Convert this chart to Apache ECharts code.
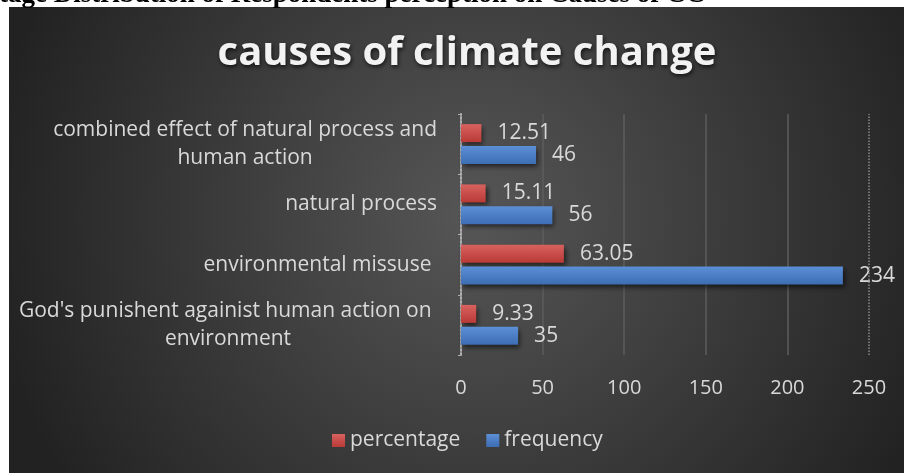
<!DOCTYPE html>
<html>
<head>
<meta charset="utf-8">
<script src="https://cdn.jsdelivr.net/npm/echarts@6/dist/echarts.min.js"></script>
<style>
html,body{margin:0;padding:0;background:#ffffff;}
#chart{width:904px;height:473px;}
</style>
</head>
<body>
<div id="chart"></div>
<script>
// ---- data ----
var categories = [
  "God's punishent againist human action on \nenvironment",
  "environmental missuse ",
  "natural process",
  "combined effect of natural process and\nhuman action"
];
var percentage = [9.33, 63.05, 15.11, 12.51];
var frequency = [35, 234, 56, 46];
var xTicks = [0, 50, 100, 150, 200, 250];
var seriesNames = ['percentage', 'frequency'];
var chartTitle = 'causes of climate change';
var headerText = "tage Distribution of Respondents perception on Causes of CC";

var chart = echarts.init(document.getElementById('chart'), null, {renderer: 'canvas'});
var FONT = '"Open Sans", "Noto Sans", sans-serif';
var LABEL = '#d9d9d9';

function grad(top, bottom) {
  return new echarts.graphic.LinearGradient(0, 0, 0, 1, [
    {offset: 0, color: top}, {offset: 1, color: bottom}
  ]);
}

var option = {
  backgroundColor: '#ffffff',
  animation: false,
  graphic: [
    {
      type: 'rect', z: -10, silent: true,
      shape: {x: 9, y: 7, width: 895, height: 466},
      style: {
        fill: new echarts.graphic.RadialGradient(0.52, 0.45, 1.05, [
          {offset: 0, color: '#565656'},
          {offset: 1, color: '#222222'}
        ])
      }
    },
    {
      type: 'text', z: -5, silent: true,
      left: -1, top: -18,
      style: {
        text: headerText,
        font: 'bold 27px "Liberation Serif", "DejaVu Serif", serif',
        fill: '#000000'
      }
    }
  ],
  title: {
    text: chartTitle,
    left: 462, top: 29,
    textAlign: 'center',
    textStyle: {
      fontFamily: FONT, fontWeight: 'bold', fontSize: 40, color: '#f2f2f2',
      textShadowColor: 'rgba(0,0,0,0.7)', textShadowBlur: 4,
      textShadowOffsetX: 1, textShadowOffsetY: 2
    }
  },
  legend: {
    data: seriesNames,
    left: 327, top: 425,
    itemWidth: 13, itemHeight: 13, itemGap: 26,
    icon: 'rect',
    textStyle: {color: LABEL, fontSize: 21, fontFamily: FONT}
  },
  grid: {left: 461, right: 35, top: 114, bottom: 118, containLabel: false},
  xAxis: {
    type: 'value', min: 0, max: 250, interval: 50,
    axisLine: {show: false},
    axisTick: {show: false},
    axisLabel: {
      color: LABEL, fontSize: 20, fontFamily: FONT, margin: 23,
      formatter: function (v) { return xTicks.indexOf(v) >= 0 ? String(v) : ''; }
    },
    splitLine: {show: true, showMinLine: false, showMaxLine: false,
      lineStyle: {color: '#5c5c5c', width: 1.5}}
  },
  yAxis: {
    type: 'category', data: categories,
    axisLine: {show: true, lineStyle: {color: '#b0b0b0', width: 2, type: [2, 2]}},
    axisTick: {show: true, length: 3, lineStyle: {color: '#b0b0b0'}},
    axisLabel: {
      margin: 24, fontSize: 21, fontFamily: FONT, color: LABEL, lineHeight: 28,
      formatter: function (v) {
        return v.split('\n').map(function (l) { return '{c|' + l + '}'; }).join('\n');
      },
      rich: {c: {align: 'center', fontSize: 21, fontFamily: FONT, color: LABEL, lineHeight: 28}}
    }
  },
  series: [
    {
      name: seriesNames[0], type: 'bar', data: percentage,
      barWidth: 18, barGap: '22%',
      itemStyle: {
        color: grad('#d8625f', '#b93a37'),
        shadowColor: 'rgba(0,0,0,0.6)', shadowBlur: 5, shadowOffsetX: 2, shadowOffsetY: 3
      },
      label: {show: true, position: 'right', distance: 16, color: LABEL, fontSize: 21, fontFamily: FONT}
    },
    {
      name: seriesNames[1], type: 'bar', data: frequency,
      barWidth: 18,
      itemStyle: {
        color: grad('#5b8fd6', '#3d6db3'),
        shadowColor: 'rgba(0,0,0,0.6)', shadowBlur: 5, shadowOffsetX: 2, shadowOffsetY: 3
      },
      label: {show: true, position: 'right', distance: 16, color: LABEL, fontSize: 21, fontFamily: FONT},
      markLine: {
        silent: true, symbol: 'none', label: {show: false},
        lineStyle: {color: '#8a8a8a', type: 'dotted', width: 1.5},
        data: [{xAxis: xTicks[xTicks.length - 1]}]
      }
    }
  ]
};
chart.setOption(option);
</script>
</body>
</html>
